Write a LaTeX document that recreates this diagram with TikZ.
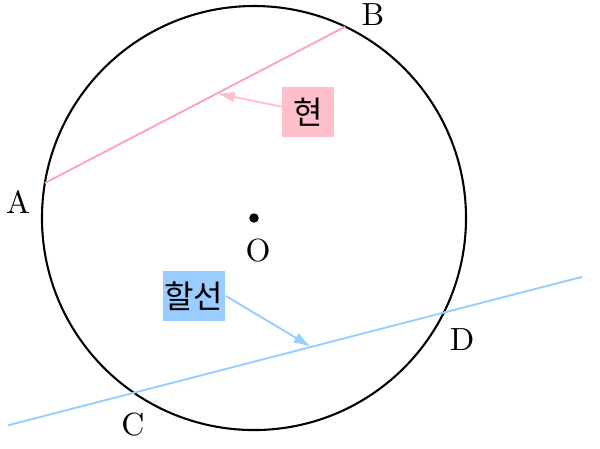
\documentclass[tikz,border=0pt]{standalone}
\usepackage{fontspec}
\usepackage{xcolor}
\usepackage{tikz}
\usetikzlibrary{positioning,calc,arrows.meta}
\newfontfamily\kor{Noto Sans CJK KR}
\definecolor{chordpink}{RGB}{255,160,200}
\definecolor{boxpink}{RGB}{255,192,203}
\definecolor{secblue}{RGB}{153,204,255}

\begin{document}
\begin{tikzpicture}[scale=0.776,
    tag/.style={inner sep=0.5pt, minimum height=15.5pt, font=\kor\fontsize{10}{11}\selectfont},
    pointer/.style={-{Latex[length=5.5pt,width=3.5pt]}, line width=0.6pt}]
    \useasboundingbox (-3.594,-3.255) rectangle (4.896,3.085);

    \coordinate (O) at (0,0);
    \coordinate (A) at (170.5:3);
    \coordinate (B) at (64.5:3);
    \coordinate (C) at (235.5:3);
    \coordinate (D) at (-26.5:3);
    \coordinate (secL) at ($(C)!-0.4055!(D)$);
    \coordinate (secR) at ($(C)!1.446!(D)$);
    \coordinate (chordtip) at ($(A)!0.573!(B)$);
    \coordinate (sectip) at ($(C)!0.572!(D)$);

    \draw[line width=0.65pt] (O) circle (3);
    \fill (O) circle (1.9pt);

    \draw[chordpink, line width=0.6pt] (A) -- (B);
    \draw[secblue, line width=0.6pt] (secL) -- (secR);

    \node (labA) at (-3.339,0.226) {A};
    \node (labB) at (1.684,2.873) {B};
    \node (labC) at (-1.712,-2.929) {C};
    \node (labD) at (2.943,-1.726) {D};
    \node (labO) at (0.057,-0.467) {O};

    \node[tag, fill=boxpink, minimum width=16pt] (hyeon) at (0.764,1.500) {현};
    \node[tag, fill=secblue, minimum width=19.6pt] (halseon) at (-0.849,-1.104) {할선};

    \draw[pointer, boxpink] (hyeon) -- (chordtip);
    \draw[pointer, secblue] (halseon.east) -- (sectip);
\end{tikzpicture}
\end{document}
